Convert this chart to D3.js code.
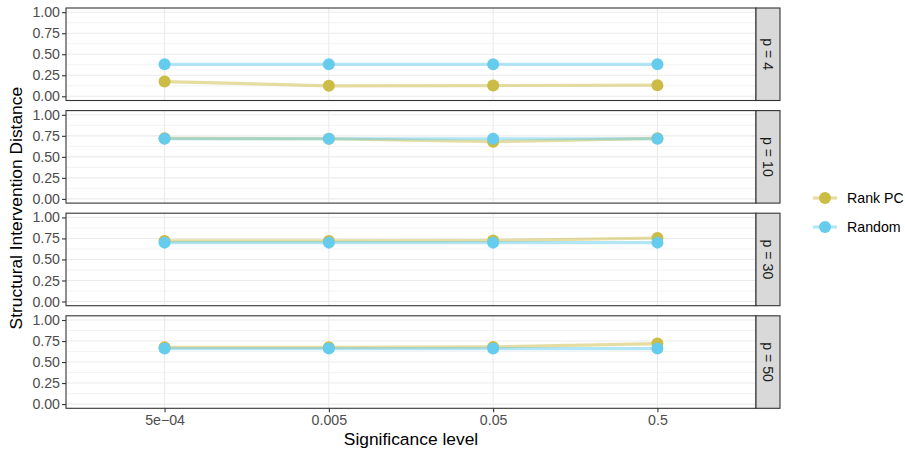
<!DOCTYPE html>
<html>
<head>
<meta charset="utf-8">
<script src="https://cdn.jsdelivr.net/npm/d3@7"></script>
<style>
  body { margin: 0; background: #fff; }
  text { font-family: "Liberation Sans", Arial, sans-serif; }
</style>
</head>
<body>
<div id="chart"></div>
<script>
// data
const levels = ['5e-04', '0.005', '0.05', '0.5'];
const facets = ['p = 4', 'p = 10', 'p = 30', 'p = 50'];
const methods = ['Rank PC', 'Random'];
const rankPC = [
  [0.175, 0.125, 0.128, 0.132],
  [0.72, 0.715, 0.68, 0.72],
  [0.72, 0.72, 0.725, 0.755],
  [0.675, 0.675, 0.68, 0.72]
];
const random = [
  [0.38, 0.38, 0.38, 0.38],
  [0.715, 0.715, 0.715, 0.715],
  [0.70, 0.70, 0.70, 0.70],
  [0.66, 0.66, 0.66, 0.66]
];
const yTicks = [0, 0.25, 0.5, 0.75, 1];
const yMinor = [0.125, 0.375, 0.625, 0.875];

const colors = { 'Rank PC': '#CCBB44', 'Random': '#66CCEE' };
const W = 905, H = 454;
const left = 66, right = 756, stripW = 24;
const panelTop = 8, panelH = 92.5, gap = 10.1;
const small = '14.2px', big = '17.4px';

const svg = d3.select('#chart').append('svg')
  .attr('width', W).attr('height', H);

const x = d3.scalePoint()
  .domain(levels)
  .range([left, right])
  .padding(0.6);

const seriesFor = i => [
  { name: 'Rank PC', values: rankPC[i] },
  { name: 'Random', values: random[i] }
];

facets.forEach((f, i) => {
  const top = panelTop + i * (panelH + gap);
  const y = d3.scaleLinear().domain([-0.05, 1.05]).range([top + panelH, top]);
  const g = svg.append('g');

  // grid
  g.selectAll('.minor').data(yMinor).enter().append('line')
    .attr('x1', left).attr('x2', right)
    .attr('y1', d => y(d)).attr('y2', d => y(d))
    .attr('stroke', '#EBEBEB').attr('stroke-width', 0.6);
  g.selectAll('.major').data(yTicks).enter().append('line')
    .attr('x1', left).attr('x2', right)
    .attr('y1', d => y(d)).attr('y2', d => y(d))
    .attr('stroke', '#EBEBEB').attr('stroke-width', 1.1);
  g.selectAll('.vmajor').data(levels).enter().append('line')
    .attr('x1', d => x(d)).attr('x2', d => x(d))
    .attr('y1', top).attr('y2', top + panelH)
    .attr('stroke', '#EBEBEB').attr('stroke-width', 1.1);

  // lines and points
  const line = d3.line().x((d, j) => x(levels[j])).y(d => y(d));
  seriesFor(i).forEach(s => {
    g.append('path')
      .attr('d', line(s.values))
      .attr('fill', 'none')
      .attr('stroke', colors[s.name])
      .attr('stroke-opacity', 0.5)
      .attr('stroke-width', 3.2);
  });
  seriesFor(i).forEach(s => {
    g.selectAll(null).data(s.values).enter().append('circle')
      .attr('cx', (d, j) => x(levels[j]))
      .attr('cy', d => y(d))
      .attr('r', 6)
      .attr('fill', colors[s.name]);
  });

  // y axis
  const ax = g.append('g')
    .attr('transform', `translate(${left},0)`)
    .call(d3.axisLeft(y).tickValues(yTicks).tickFormat(d3.format('.2f')).tickSize(4).tickPadding(2));
  ax.select('.domain').remove();
  ax.selectAll('line').attr('stroke', '#333333').attr('stroke-width', 1.1);
  ax.selectAll('text').attr('fill', '#4D4D4D').style('font-size', small);

  // panel border
  g.append('rect')
    .attr('x', left).attr('y', top)
    .attr('width', right - left).attr('height', panelH)
    .attr('fill', 'none').attr('stroke', '#333333').attr('stroke-width', 1.1);

  // strip
  g.append('rect')
    .attr('x', right).attr('y', top)
    .attr('width', stripW).attr('height', panelH)
    .attr('fill', '#D9D9D9').attr('stroke', '#333333').attr('stroke-width', 1.1);
  g.append('text')
    .attr('transform', `translate(${right + stripW / 2},${top + panelH / 2}) rotate(90)`)
    .attr('text-anchor', 'middle')
    .attr('dy', '0.35em')
    .attr('fill', '#1A1A1A')
    .style('font-size', small)
    .text(f);

  // x axis on bottom panel
  if (i === facets.length - 1) {
    const xa = g.append('g')
      .attr('transform', `translate(0,${top + panelH})`)
      .call(d3.axisBottom(x).tickSize(4).tickPadding(3));
    xa.select('.domain').remove();
    xa.selectAll('line').attr('stroke', '#333333').attr('stroke-width', 1.1);
    xa.selectAll('text').attr('fill', '#4D4D4D').style('font-size', small)
      .text(d => d.replace('-', '\u2212'));
  }
});

// axis titles
svg.append('text')
  .attr('x', (left + right) / 2).attr('y', 445)
  .attr('text-anchor', 'middle')
  .style('font-size', big)
  .attr('fill', '#000')
  .text('Significance level');

svg.append('text')
  .attr('transform', `translate(22,${panelTop + (4 * panelH + 3 * gap) / 2}) rotate(-90)`)
  .attr('text-anchor', 'middle')
  .style('font-size', big)
  .attr('fill', '#000')
  .text('Structural Intervention Distance');

// legend
const legend = svg.append('g').attr('transform', 'translate(813,198)');
methods.forEach((m, k) => {
  const ly = k * 29;
  legend.append('line')
    .attr('x1', 0).attr('x2', 24).attr('y1', ly).attr('y2', ly)
    .attr('stroke', colors[m]).attr('stroke-opacity', 0.5).attr('stroke-width', 3.2);
  legend.append('circle')
    .attr('cx', 12).attr('cy', ly).attr('r', 6).attr('fill', colors[m]);
  legend.append('text')
    .attr('x', 34).attr('y', ly).attr('dy', '0.35em')
    .style('font-size', small)
    .attr('fill', '#000')
    .text(m);
});
</script>
</body>
</html>
